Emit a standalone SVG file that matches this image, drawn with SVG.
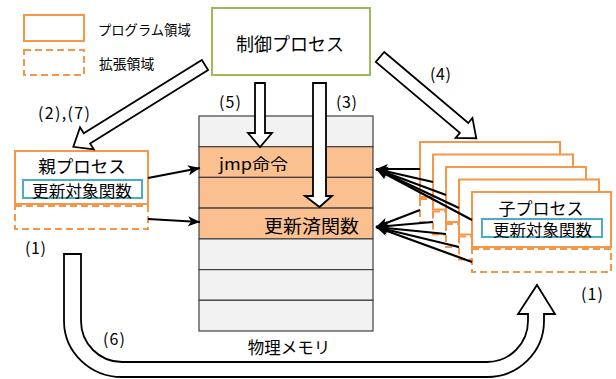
<svg xmlns="http://www.w3.org/2000/svg" width="616" height="379" viewBox="0 0 616 379">
<style>
text{font-family:"Noto Sans CJK JP","Noto Sans",sans-serif;fill:#000;dominant-baseline:central}
.prog{fill:#fff;stroke:#F79646;stroke-width:2}
.ext{fill:#fff;stroke:#F79646;stroke-width:2;stroke-dasharray:7 4}
.func{fill:#fff;stroke:#4BACC6;stroke-width:2}
.blk{fill:#fff;stroke:#000;stroke-width:1.8;stroke-linejoin:miter}
.cell{stroke:#404040;stroke-width:1.2}
.g{fill:#F2F2F2}
.o{fill:#FAC090}
.ln{stroke:#000;stroke-width:2.2;fill:none;marker-end:url(#ah)}
.lbl{font-size:17}
</style>
<defs>
<marker id="ah" markerUnits="userSpaceOnUse" markerWidth="13" markerHeight="11" refX="12" refY="5" orient="auto">
<path d="M0,0 L12,5 L0,10 L3,5 Z" fill="#000"/>
</marker>
</defs>

<g id="legend">
<rect class="prog" x="24" y="15" width="60" height="26"/>
<text x="98" y="29" font-size="13.3">プログラム領域</text>
<rect class="ext" x="24" y="50" width="60" height="25"/>
<text x="99" y="63" font-size="13.8">拡張領域</text>
</g>

<g id="control">
<rect x="212" y="8" width="158" height="67" fill="#fff" stroke="#9BBB59" stroke-width="2"/>
<text x="290" y="43" font-size="18" text-anchor="middle">制御プロセス</text>
</g>

<g id="memory">
<rect class="cell g" x="199" y="116" width="174" height="30.7"/>
<rect class="cell o" x="199" y="146.7" width="174" height="30.7"/>
<rect class="cell o" x="199" y="177.4" width="174" height="30.7"/>
<rect class="cell o" x="199" y="208.1" width="174" height="30.8"/>
<rect class="cell g" x="199" y="238.9" width="174" height="30.7"/>
<rect class="cell g" x="199" y="269.6" width="174" height="30.7"/>
<rect class="cell g" x="199" y="300.3" width="174" height="30.7"/>
<text x="219" y="163" font-size="16" textLength="69" lengthAdjust="spacingAndGlyphs">jmp命令</text>
<text x="264" y="225" font-size="18" textLength="95" lengthAdjust="spacingAndGlyphs">更新済関数</text>
<text x="289" y="347" font-size="16.5" text-anchor="middle">物理メモリ</text>
</g>

<g id="parent">
<rect class="prog" x="15" y="151" width="133" height="53"/>
<rect class="ext" x="15" y="206" width="133" height="23"/>
<text x="82" y="165" font-size="17.5" text-anchor="middle">親プロセス</text>
<rect class="func" x="23" y="180" width="119" height="18"/>
<text x="32" y="189.5" font-size="15.5" textLength="100" lengthAdjust="spacingAndGlyphs">更新対象関数</text>
</g>

<g id="children">
<g id="child1"><rect class="prog" x="420" y="142" width="140" height="55"/><rect class="ext" x="420" y="199" width="140" height="23"/></g>
<g id="child2"><rect class="prog" x="433" y="154.5" width="140" height="55"/><rect class="ext" x="433" y="211.5" width="140" height="23"/></g>
<g id="child3"><rect class="prog" x="446" y="167" width="140" height="55"/><rect class="ext" x="446" y="224" width="140" height="23"/></g>
<g id="child4"><rect class="prog" x="459" y="179.5" width="140" height="55"/><rect class="ext" x="459" y="236.5" width="140" height="23"/></g>
<g id="child5">
<rect class="prog" x="472" y="192" width="139" height="55"/>
<rect class="ext" x="472" y="249" width="139" height="23"/>
<text x="541" y="207" font-size="17" text-anchor="middle">子プロセス</text>
<rect class="func" x="482" y="219" width="120" height="18"/>
<text x="493" y="228.5" font-size="15.5" textLength="99" lengthAdjust="spacingAndGlyphs">更新対象関数</text>
</g>
</g>

<g id="connectors">
<polygon class="blk" points="0,-6 139,-6 139,-13 155,0 139,13 139,6 0,6" transform="translate(205,65) rotate(148.15)"/>
<polygon class="blk" points="0,-6.5 110,-6.5 110,-13 126,0 110,13 110,6.5 0,6.5" transform="translate(380,57) rotate(40.16)"/>
<polygon class="blk" points="255,83 265,83 265,133 272,133 260,147 248,133 255,133"/>
<polygon class="blk" points="313,83 326,83 326,196 332,196 319.5,207 305,196 313,196"/>
<path class="blk" d="M64,254 H81 V321 A41,41 0 0 0 122,362 H487 A41,41 0 0 0 528,321 V314 H518 L537,285 L555,314 H544 V321 A57,56 0 0 1 487,377 H122 A58,56 0 0 1 64,321 Z"/>

<line class="ln" x1="148" y1="178" x2="200" y2="168"/>
<line class="ln" x1="148" y1="219" x2="200" y2="222"/>

<line class="ln" x1="420" y1="169" x2="376" y2="169"/>
<line class="ln" x1="433" y1="182" x2="376" y2="169"/>
<line class="ln" x1="446" y1="195" x2="376" y2="169"/>
<line class="ln" x1="459" y1="208" x2="376" y2="169"/>
<line class="ln" x1="472" y1="220" x2="376" y2="169"/>
<line class="ln" x1="420" y1="210" x2="376" y2="227"/>
<line class="ln" x1="433" y1="222" x2="376" y2="227"/>
<line class="ln" x1="446" y1="234" x2="376" y2="227"/>
<line class="ln" x1="459" y1="247" x2="376" y2="227"/>
<line class="ln" x1="472" y1="262" x2="376" y2="227"/>
</g>

<g id="labels">
<text class="lbl" x="38" y="112" textLength="52" lengthAdjust="spacing">(2),(7)</text>
<text class="lbl" x="430" y="73" textLength="21" lengthAdjust="spacing">(4)</text>
<text class="lbl" x="219" y="101" textLength="22" lengthAdjust="spacing">(5)</text>
<text class="lbl" x="336" y="101" textLength="21" lengthAdjust="spacing">(3)</text>
<text class="lbl" x="25" y="247" textLength="21" lengthAdjust="spacing">(1)</text>
<text class="lbl" x="581" y="293" textLength="22" lengthAdjust="spacing">(1)</text>
<text class="lbl" x="103" y="338" textLength="22" lengthAdjust="spacing">(6)</text>
</g>
</svg>
